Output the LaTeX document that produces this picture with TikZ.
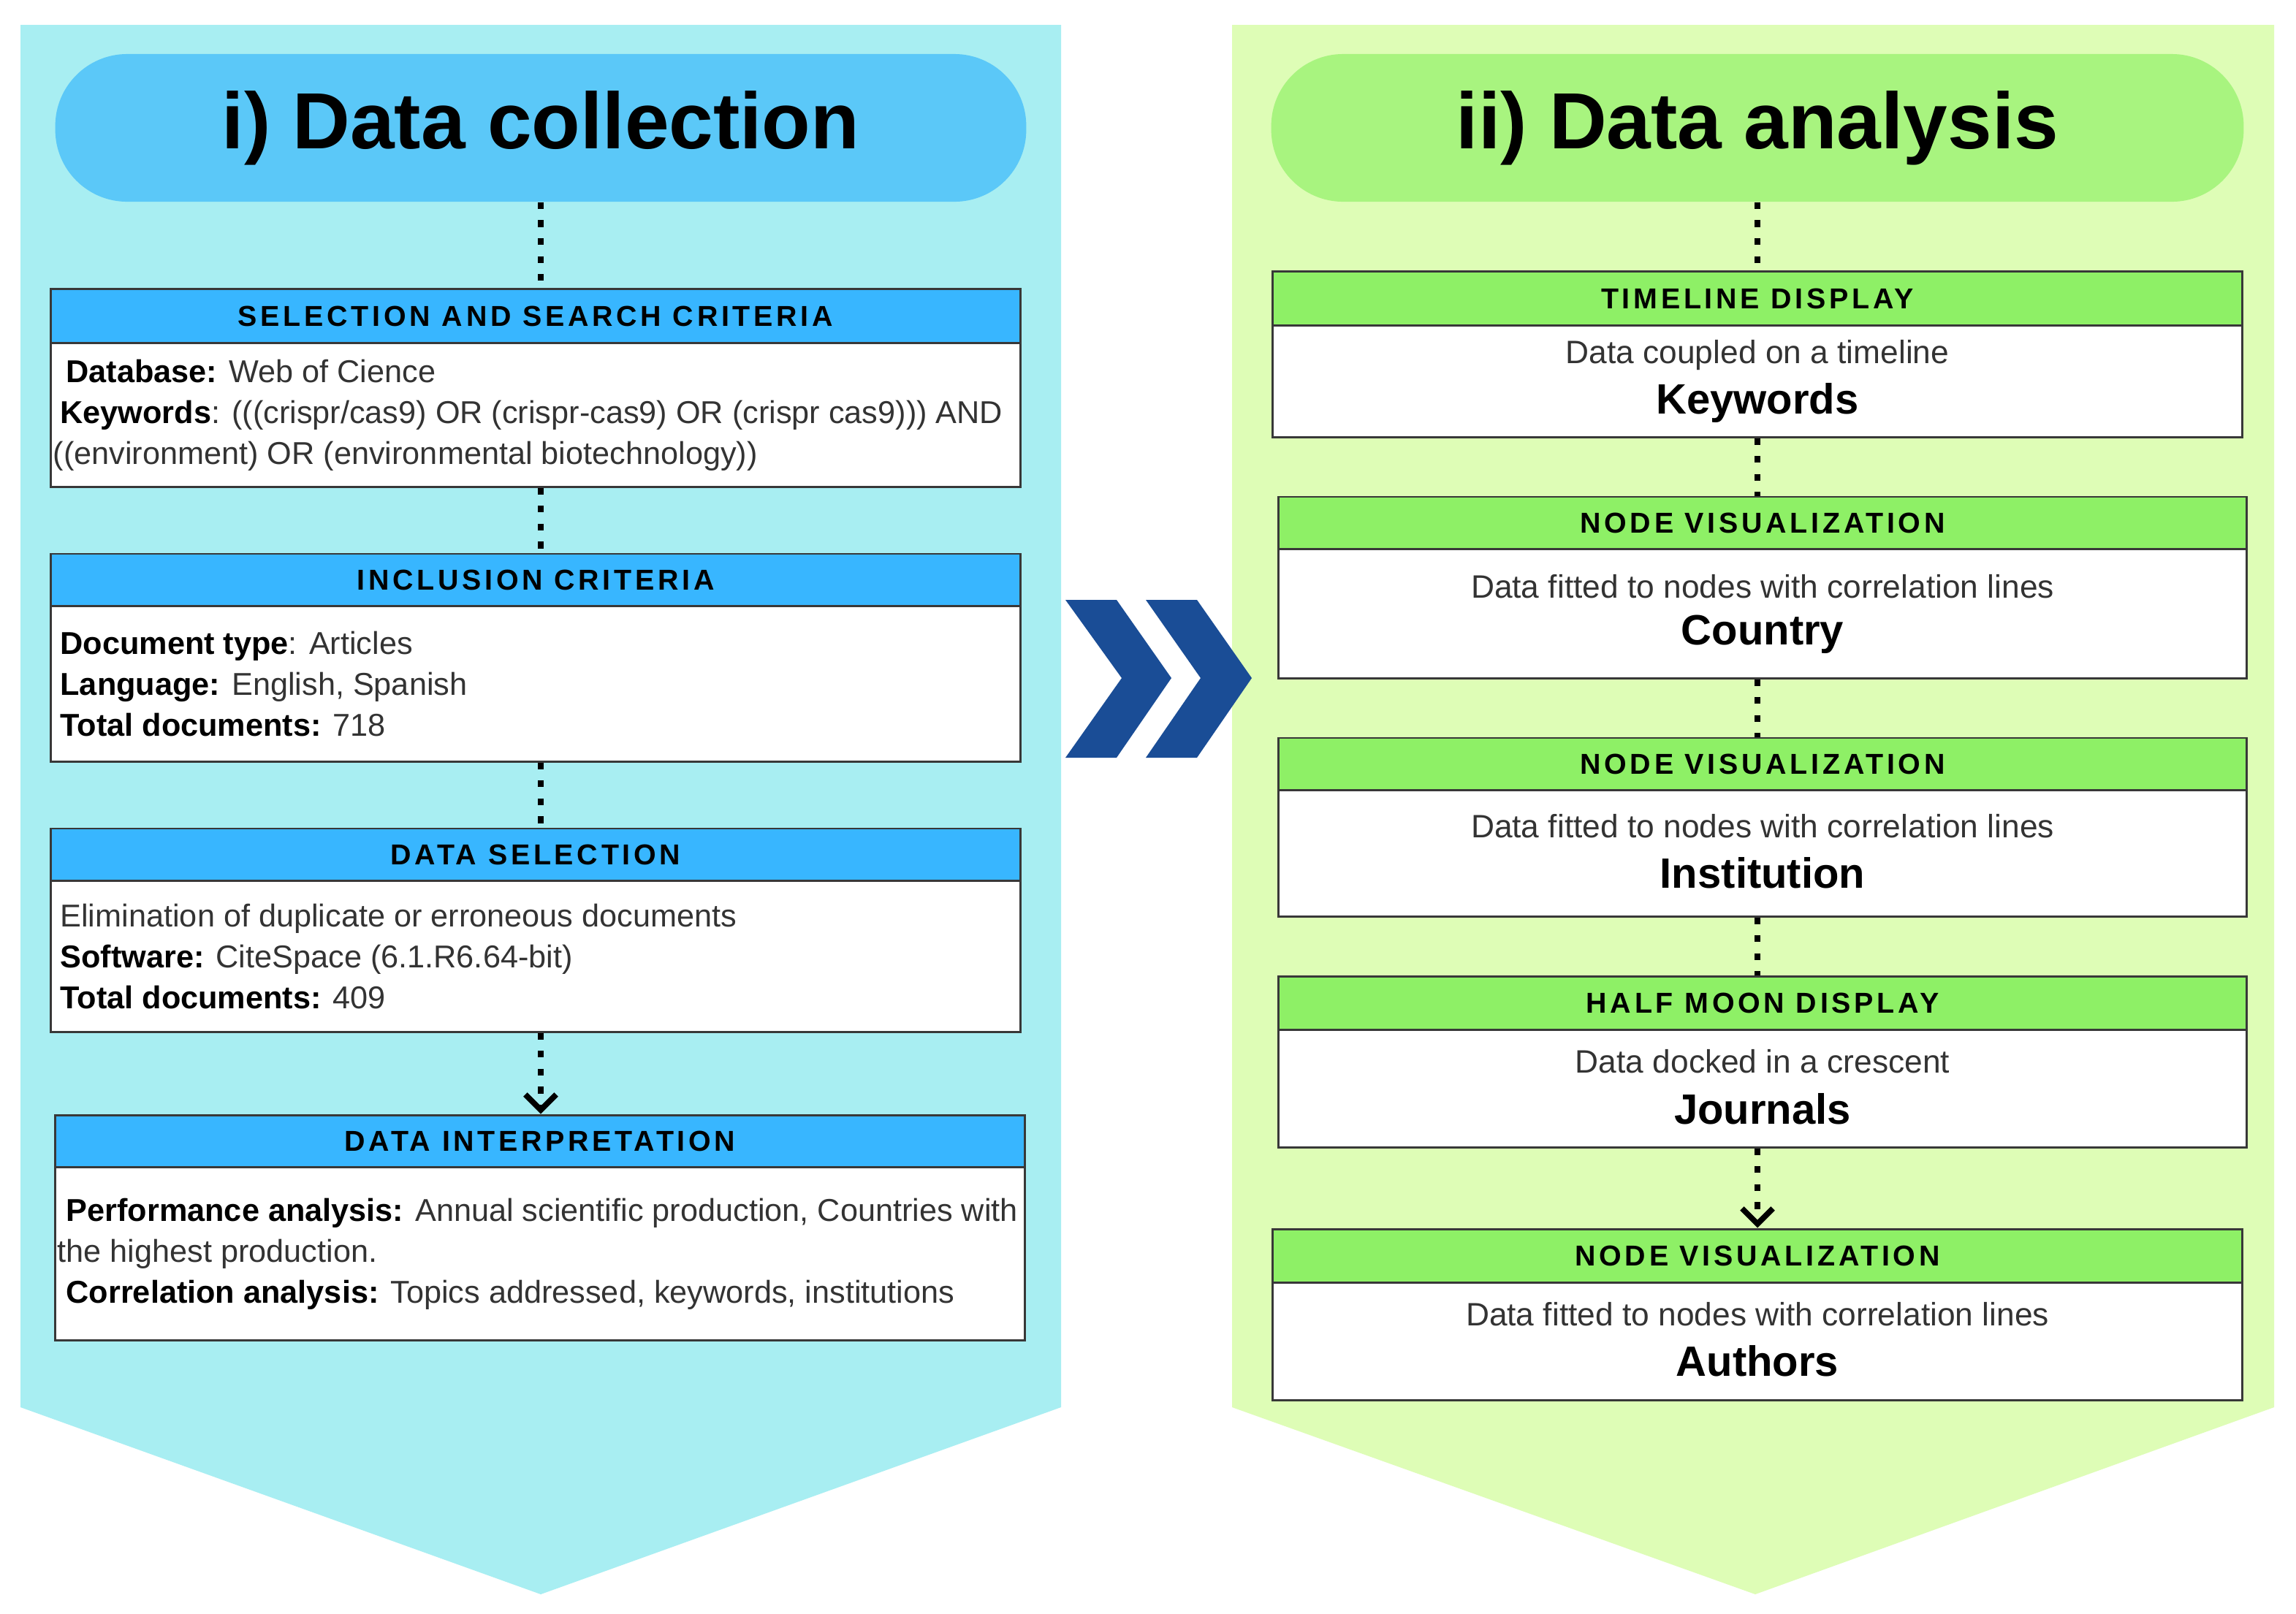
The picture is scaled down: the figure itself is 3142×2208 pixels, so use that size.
\documentclass[tikz,border=0pt]{standalone}
\usepackage{fontspec}
\setmainfont{Liberation Sans}
\newfontfamily\hdrfont{Liberation Sans}[LetterSpace=12]
\usetikzlibrary{arrows.meta}
\definecolor{bgL}{HTML}{A8EEF2}
\definecolor{bgR}{HTML}{DEFDB6}
\definecolor{pillL}{HTML}{5BC8F8}
\definecolor{pillR}{HTML}{A8F47F}
\definecolor{hdrLc}{HTML}{38B6FF}
\definecolor{hdrRc}{HTML}{8EF066}
\definecolor{chev}{HTML}{1A4D96}
\definecolor{boxline}{HTML}{383838}
\definecolor{txtc}{HTML}{333333}
\begin{document}
\begin{tikzpicture}[x=0.01cm,y=-0.01cm,
  hdr/.style={draw=boxline, line width=0.85pt, inner sep=0pt, text=black,
    font=\hdrfont\fontsize{11.2}{13}\selectfont\bfseries},
  hdrL/.style={hdr, fill=hdrLc},
  hdrR/.style={hdr, fill=hdrRc},
  bodybox/.style={draw=boxline, line width=0.85pt, fill=white, inner sep=0pt},
  txt/.style={anchor=west, align=left, inner sep=0pt, text=txtc,
    font=\fontsize{12.3}{15.9}\selectfont},
  smalltxt/.style={inner sep=0pt, text=txtc, font=\fontsize{12.6}{15}\selectfont},
  bigtxt/.style={inner sep=0pt, text=black, font=\bfseries\fontsize{16.5}{20}\selectfont},
  pill/.style={rounded corners=28pt, inner sep=0pt, minimum height=2.02cm,
    font=\bfseries\fontsize{31}{36}\selectfont, text=black},
  conn/.style={line width=2.2pt, dash pattern=on 2.6pt off 4.4pt, black},
  arr/.style={conn, -{Straight Barb[length=6pt,width=12pt]}}
]
\useasboundingbox (0,0) rectangle (3142,2208);
\fill[white] (0,0) rectangle (3142,2208);
% panels
\fill[bgL] (28,34) -- (1452,34) -- (1452,1926) -- (740,2182) -- (28,1926) -- cycle;
\fill[bgR] (1686,34) -- (3112,34) -- (3112,1926) -- (2402,2182) -- (1686,1926) -- cycle;
% titles
\node[pill, fill=pillL, minimum width=13.28cm] (tL) at (740,175) {\raisebox{-2pt}{i) Data collection}};
\node[pill, fill=pillR, minimum width=13.30cm] (tR) at (2405,175) {\raisebox{-2pt}{ii) Data analysis}};

% left boxes
\node[hdrL, minimum width=13.26cm, minimum height=0.74cm] (h1) at (733,433) {SELECTION AND SEARCH CRITERIA};
\node[bodybox, minimum width=13.26cm, minimum height=1.96cm] (b1) at (733,568) {};
\node[txt] (t1) at ([xshift=1.1pt]b1.west) {%
\hspace*{5.1pt}\textbf{\color{black}Database:} Web of Cience\\
\hspace*{2.8pt}\textbf{\color{black}Keywords}: (((crispr/cas9) OR (crispr-cas9) OR (crispr cas9))) AND\\
((environment) OR (environmental biotechnology))};

\node[hdrL, minimum width=13.26cm, minimum height=0.72cm] (h2) at (733,794) {INCLUSION CRITERIA};
\node[bodybox, minimum width=13.26cm, minimum height=2.12cm] (b2) at (733,936) {};
\node[txt] (t2) at ([xshift=1.1pt]b2.west) {%
\hspace*{2.8pt}\textbf{\color{black}Document type}: Articles\\
\hspace*{2.8pt}\textbf{\color{black}Language:} English, Spanish\\
\hspace*{2.8pt}\textbf{\color{black}Total documents:} 718};

\node[hdrL, minimum width=13.26cm, minimum height=0.72cm] (h3) at (733,1170) {DATA SELECTION};
\node[bodybox, minimum width=13.26cm, minimum height=2.06cm] (b3) at (733,1309) {};
\node[txt] (t3) at ([xshift=1.1pt]b3.west) {%
\hspace*{2.8pt}Elimination of duplicate or erroneous documents\\
\hspace*{2.8pt}\textbf{\color{black}Software:} CiteSpace (6.1.R6.64-bit)\\
\hspace*{2.8pt}\textbf{\color{black}Total documents:} 409};

\node[hdrL, minimum width=13.26cm, minimum height=0.72cm] (h4) at (739,1562) {DATA INTERPRETATION};
\node[bodybox, minimum width=13.26cm, minimum height=2.36cm] (b4) at (739,1716) {};
\node[txt] (t4) at ([xshift=1.1pt]b4.west) {%
\hspace*{3.4pt}\textbf{\color{black}Performance analysis:} Annual scientific production, Countries with\\
the highest production.\\
\hspace*{3.4pt}\textbf{\color{black}Correlation analysis:} Topics addressed, keywords, institutions};

% right boxes
\node[hdrR, minimum width=13.26cm, minimum height=0.74cm] (r1) at (2405,409) {TIMELINE DISPLAY};
\node[bodybox, minimum width=13.26cm, minimum height=1.52cm] (s1) at (2405,522) {};
\node[smalltxt] (a1) at ([yshift=10.2pt]s1.center) {Data coupled on a timeline};
\node[bigtxt] (c1) at ([yshift=-8.4pt]s1.center) {Keywords};

\node[hdrR, minimum width=13.24cm, minimum height=0.72cm] (r2) at (2412,716) {NODE VISUALIZATION};
\node[bodybox, minimum width=13.24cm, minimum height=1.76cm] (s2) at (2412,840) {};
\node[smalltxt] (a2) at ([yshift=10.6pt]s2.center) {Data fitted to nodes with correlation lines};
\node[bigtxt] (c2) at ([yshift=-8pt]s2.center) {Country};

\node[hdrR, minimum width=13.24cm, minimum height=0.72cm] (r3) at (2412,1046) {NODE VISUALIZATION};
\node[bodybox, minimum width=13.24cm, minimum height=1.72cm] (s3) at (2412,1168) {};
\node[smalltxt] (a3) at ([yshift=10.6pt]s3.center) {Data fitted to nodes with correlation lines};
\node[bigtxt] (c3) at ([yshift=-7.6pt]s3.center) {Institution};

\node[hdrR, minimum width=13.24cm, minimum height=0.74cm] (r4) at (2412,1373) {HALF MOON DISPLAY};
\node[bodybox, minimum width=13.24cm, minimum height=1.60cm] (s4) at (2412,1490) {};
\node[smalltxt] (a4) at ([yshift=10.6pt]s4.center) {Data docked in a crescent};
\node[bigtxt] (c4) at ([yshift=-8pt]s4.center) {Journals};

\node[hdrR, minimum width=13.26cm, minimum height=0.74cm] (r5) at (2405,1719) {NODE VISUALIZATION};
\node[bodybox, minimum width=13.26cm, minimum height=1.60cm] (s5) at (2405,1836) {};
\node[smalltxt] (a5) at ([yshift=10.6pt]s5.center) {Data fitted to nodes with correlation lines};
\node[bigtxt] (c5) at ([yshift=-7.6pt]s5.center) {Authors};

% connectors left
\draw[conn] (tL.south) -- (h1.north -| tL.south);
\draw[conn] (b1.south -| tL.south) -- (h2.north -| tL.south);
\draw[conn] (b2.south -| tL.south) -- (h3.north -| tL.south);
\draw[arr] (b3.south -| tL.south) -- (h4.north -| tL.south);
% connectors right
\draw[conn] (tR.south -| r1.north) -- (r1.north);
\draw[conn] (s1.south -| r1.north) -- (r2.north -| r1.north);
\draw[conn] (s2.south -| r1.north) -- (r3.north -| r1.north);
\draw[conn] (s3.south -| r1.north) -- (r4.north -| r1.north);
\draw[arr] (s4.south -| r1.north) -- (r5.north);

% double chevron
\fill[chev] (1458,821) -- (1528,821) -- (1603,928) -- (1528,1037) -- (1458,1037) -- (1535,928) -- cycle;
\fill[chev] (1568,821) -- (1638,821) -- (1713,928) -- (1638,1037) -- (1568,1037) -- (1643,928) -- cycle;
\end{tikzpicture}
\end{document}
